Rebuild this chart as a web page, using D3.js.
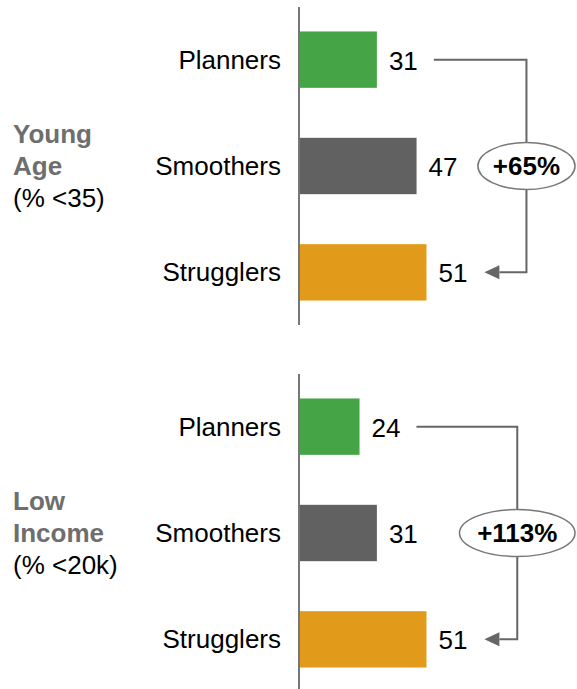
<!DOCTYPE html>
<html>
<head>
<meta charset="utf-8">
<script src="https://cdn.jsdelivr.net/npm/d3@7/dist/d3.min.js"></script>
<style>
  html, body { margin: 0; padding: 0; background: #fff; }
  svg { display: block; font-family: "Liberation Sans", Arial, sans-serif; }
</style>
</head>
<body>
<svg id="chart" width="577" height="689"></svg>
<script>
// Segment shares by demographic group
const segments = ["Planners", "Smoothers", "Strugglers"];
const segmentColors = ["#45a445", "#616161", "#e29a1a"];
const groupTitles = [["Young", "Age"], ["Low", "Income"]];
const groupNotes = ["(% <35)", "(% <20k)"];
const youngAgeValues = [31, 47, 51];
const lowIncomeValues = [24, 31, 51];

const groups = [
  { title: groupTitles[0], note: groupNotes[0], values: youngAgeValues },
  { title: groupTitles[1], note: groupNotes[1], values: lowIncomeValues }
];

const svg = d3.select("#chart");
const axisX = 299;
const panelTop = [7, 374];
const panelHeight = 318;
const ellipseRight = 575;

const x = d3.scaleLinear().domain([0, 100]).range([axisX + 1, axisX + 1 + 248]);
const color = d3.scaleOrdinal().domain(segments).range(segmentColors);

groups.forEach((g, gi) => {
  const top = panelTop[gi];
  const y = d3.scaleBand()
    .domain(segments)
    .range([top, top + panelHeight])
    .paddingInner(0.47)
    .paddingOuter(0.23);
  const mid = (s) => y(s) + y.bandwidth() / 2;

  const panel = svg.append("g");

  // bars
  panel.selectAll("rect.bar")
    .data(segments.map((s, i) => ({ seg: s, v: g.values[i] })))
    .join("rect")
    .attr("class", "bar")
    .attr("x", x(0))
    .attr("y", d => y(d.seg))
    .attr("width", d => x(d.v) - x(0))
    .attr("height", y.bandwidth())
    .attr("fill", d => color(d.seg));

  // vertical baseline
  panel.append("line")
    .attr("x1", axisX).attr("x2", axisX)
    .attr("y1", top).attr("y2", top + panelHeight)
    .attr("stroke", "#777").attr("stroke-width", 2);

  // category labels
  panel.selectAll("text.cat")
    .data(segments)
    .join("text")
    .attr("class", "cat")
    .attr("x", axisX - 18)
    .attr("y", d => mid(d) + 9)
    .attr("text-anchor", "end")
    .attr("font-size", 26)
    .attr("fill", "#000")
    .text(d => d);

  // value labels
  const valueLabels = panel.selectAll("text.val")
    .data(segments.map((s, i) => ({ seg: s, v: g.values[i] })))
    .join("text")
    .attr("class", "val")
    .attr("x", d => x(d.v) + 12)
    .attr("y", d => mid(d.seg) + 10)
    .attr("font-size", 26)
    .attr("fill", "#000")
    .text(d => d.v);

  // group title
  const gy = mid(segments[1]) + 9;
  const title = panel.append("text")
    .attr("x", 13)
    .attr("font-size", 26);
  g.title.forEach((t, ti) => {
    title.append("tspan")
      .attr("x", 13)
      .attr("y", gy + (ti - 1) * 32)
      .attr("font-weight", "bold")
      .attr("fill", "#6e6e6e")
      .text(t);
  });
  title.append("tspan")
    .attr("x", 13)
    .attr("y", gy + 32)
    .attr("fill", "#000")
    .text(g.note);

  // change from first to last segment
  const first = g.values[0], last = g.values[g.values.length - 1];
  const change = Math.round((last - first) / first * 100);
  const changeText = (change >= 0 ? "+" : "") + change + "%";

  const labelNodes = valueLabels.nodes();
  const startX = labelNodes[0].getBBox().x + labelNodes[0].getBBox().width + 16;
  const endNode = labelNodes[labelNodes.length - 1];
  const tipX = endNode.getBBox().x + endNode.getBBox().width + 17;

  const pctText = panel.append("text")
    .attr("font-size", 26)
    .attr("font-weight", "bold")
    .attr("text-anchor", "middle")
    .attr("fill", "#000")
    .text(changeText);
  const tw = pctText.node().getBBox().width;
  const rx = tw / Math.SQRT2 + 1;
  const ry = 23.5;
  const cx = ellipseRight - rx;
  const cy = mid(segments[1]);

  const y0 = mid(segments[0]);
  const y2 = mid(segments[segments.length - 1]);
  const headLen = 15, headHalf = 7;

  panel.insert("path", "text")
    .attr("d", `M${startX},${y0}H${cx}V${y2}H${tipX + headLen}`)
    .attr("fill", "none")
    .attr("stroke", "#666")
    .attr("stroke-width", 2);
  panel.insert("path", "text")
    .attr("d", `M${tipX},${y2}L${tipX + headLen},${y2 - headHalf}L${tipX + headLen},${y2 + headHalf}Z`)
    .attr("fill", "#666");

  panel.insert("ellipse", "text")
    .attr("cx", cx).attr("cy", cy)
    .attr("rx", rx).attr("ry", ry)
    .attr("fill", "#fff")
    .attr("stroke", "#777")
    .attr("stroke-width", 1.5);

  pctText.attr("x", cx).attr("y", cy + 9);
});
</script>
</body>
</html>
